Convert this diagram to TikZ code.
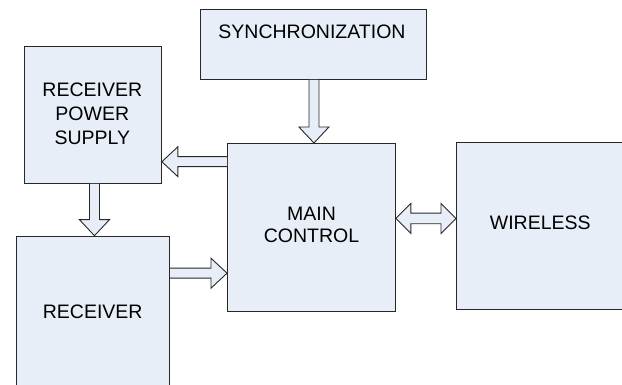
\documentclass[tikz,border=0pt]{standalone}
\usepackage{fontspec}
\setmainfont{Liberation Sans}
\usetikzlibrary{calc}
\definecolor{boxfill}{RGB}{231,238,247}
\definecolor{boxline}{RGB}{40,40,40}
\tikzset{
  box/.style={draw=boxline, fill=boxfill, line width=0.9pt, rectangle, inner sep=0pt, anchor=north west},
  lbl/.style={font=\fontsize{19.5}{24}\selectfont, text=black, inner sep=0pt, anchor=base},
  blk/.style={draw=boxline, fill=boxfill, line width=0.9pt, line join=miter}
}
\newcommand\blockarrow[2]{%
  \path ($(#2)!16pt!(#1)$) coordinate (hb);
  \draw[blk] ($(#1)!5pt!90:(#2)$) -- ($(hb)!5pt!90:(#2)$) -- ($(hb)!15pt!90:(#2)$) -- (#2)
    -- ($(hb)!15pt!-90:(#2)$) -- ($(hb)!5pt!-90:(#2)$) -- ($(#1)!5pt!-90:(#2)$);}
\newcommand\doubleblockarrow[2]{%
  \path ($(#1)!15pt!(#2)$) coordinate (hba) ($(#2)!15pt!(#1)$) coordinate (hbb);
  \draw[blk] (#1) -- ($(hba)!15pt!90:(#2)$) -- ($(hba)!5.3pt!90:(#2)$) -- ($(hbb)!5.3pt!90:(#2)$)
    -- ($(hbb)!15pt!90:(#2)$) -- (#2) -- ($(hbb)!15pt!-90:(#2)$) -- ($(hbb)!5.3pt!-90:(#2)$)
    -- ($(hba)!5.3pt!-90:(#2)$) -- ($(hba)!15pt!-90:(#2)$) -- cycle;}
\begin{document}
\begin{tikzpicture}[x=1pt,y=-1pt]
\useasboundingbox (0,0) rectangle (622,385);
\clip (0,0) rectangle (622,385);
\fill[white] (0,0) rectangle (622,385);
% boxes
\node[box, minimum width=226pt, minimum height=70pt] (sync) at (200,9) {};
\node[box, minimum width=137pt, minimum height=137pt] (rps) at (24,46) {};
\node[box, minimum width=168pt, minimum height=168pt] (main) at (227,143) {};
\node[box, minimum width=180pt, minimum height=167pt] (wl) at (456,142) {};
\node[box, minimum width=153pt, minimum height=170pt] (rec) at (16.3,235.7) {};
% labels
\node[lbl] (synct) at (312,38.3) {SYNCHRONIZATION};
\node[lbl] (rpst1) at (92.3,96.7) {RECEIVER};
\node[lbl] (rpst2) at (92.3,120.7) {POWER};
\node[lbl] (rpst3) at (92.3,145) {SUPPLY};
\node[lbl] (maint1) at (311.5,221) {MAIN};
\node[lbl] (maint2) at (311.5,242.7) {CONTROL};
\node[lbl] (wlt) at (540.3,230) {WIRELESS};
\node[lbl] (rect) at (92.7,318.3) {RECEIVER};
% connectors
\coordinate (a1s) at ([xshift=0.5pt]sync.south);
\coordinate (a1t) at (a1s |- main.north);
\blockarrow{a1s}{a1t}
\coordinate (a2s) at ([yshift=-18.7pt]main.north west);
\coordinate (a2t) at (a2s -| rps.east);
\blockarrow{a2s}{a2t}
\coordinate (a3s) at ([xshift=1.5pt]rps.south);
\coordinate (a3t) at (a3s |- rec.north);
\blockarrow{a3s}{a3t}
\coordinate (a4s) at ([yshift=-37.5pt]rec.north east);
\coordinate (a4t) at (a4s -| main.west);
\blockarrow{a4s}{a4t}
\coordinate (a5s) at ([yshift=9pt]main.east);
\coordinate (a5t) at (a5s -| wl.west);
\doubleblockarrow{a5s}{a5t}
\end{tikzpicture}
\end{document}
